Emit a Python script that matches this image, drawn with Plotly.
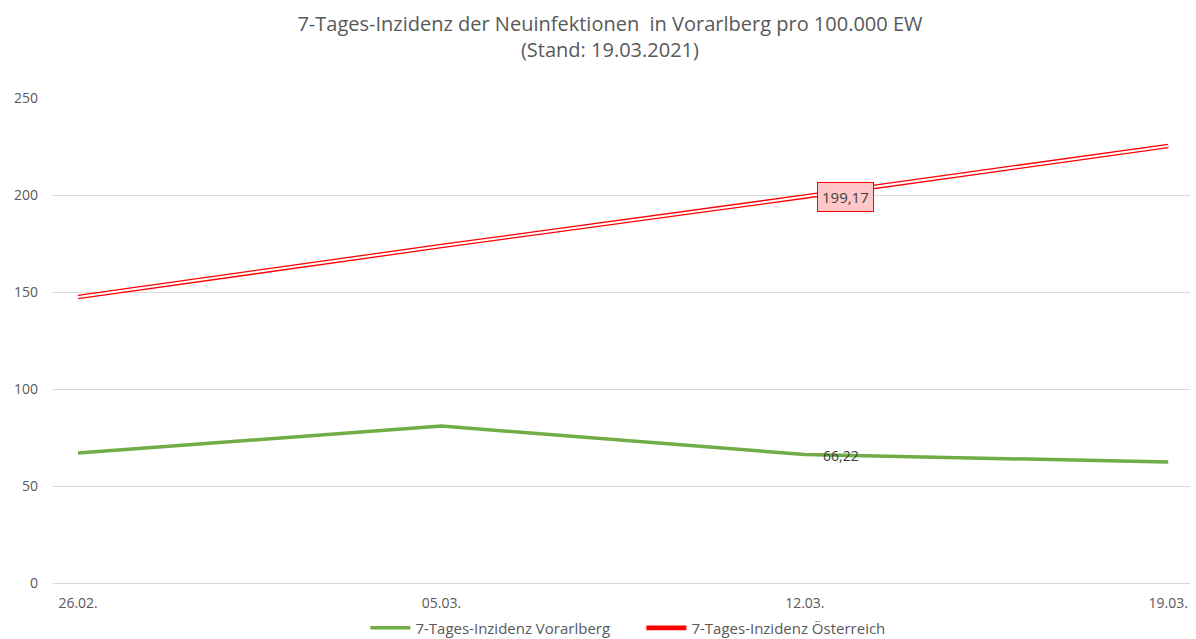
import plotly.graph_objects as go

# Data
dates = ["26.02.", "05.03.", "12.03.", "19.03."]
vorarlberg = [67.0, 80.9, 66.22, 62.4]
oesterreich = [147.4, 173.7, 199.17, 225.3]

labelled_idx = 2  # point that carries a data label

GREEN = "#70AD47"
RED = "#FF0000"
GRAY = "#595959"
GRID = "#D9D9D9"
FONT = "Open Sans"


def de_num(v):
    return f"{v:.2f}".replace(".", ",")


fig = go.Figure()

fig.add_trace(go.Scatter(
    x=dates, y=vorarlberg, mode="lines",
    name="7-Tages-Inzidenz Vorarlberg",
    line=dict(color=GREEN, width=3.5),
))

# Austria: double line drawn as a red line with a white core
fig.add_trace(go.Scatter(
    x=dates, y=oesterreich, mode="lines",
    name="7-Tages-Inzidenz Österreich",
    line=dict(color=RED, width=4.6),
))
fig.add_trace(go.Scatter(
    x=dates, y=oesterreich, mode="lines",
    showlegend=False, hoverinfo="skip",
    line=dict(color="white", width=2.0),
))

# data labels
fig.add_annotation(
    x=dates[labelled_idx], y=vorarlberg[labelled_idx],
    text=de_num(vorarlberg[labelled_idx]),
    showarrow=False, xanchor="left", xshift=16, yshift=-1,
    font=dict(family=FONT, size=14, color="#404040"),
)
fig.add_annotation(
    x=dates[labelled_idx], y=oesterreich[labelled_idx],
    text=de_num(oesterreich[labelled_idx]),
    showarrow=False, xanchor="left", xshift=12, yshift=0,
    font=dict(family=FONT, size=15, color="#404040"),
    bgcolor="#FFC7C7", bordercolor=RED, borderwidth=1, borderpad=4,
)

fig.update_layout(
    width=1196, height=639,
    paper_bgcolor="white", plot_bgcolor="white",
    margin=dict(l=53, r=6, t=98, b=56, autoexpand=False),
    font=dict(family=FONT, size=14, color=GRAY),
    title=dict(
        text="7-Tages-Inzidenz der Neuinfektionen  in Vorarlberg pro 100.000 EW<br>(Stand: 19.03.2021)",
        x=0.51, xanchor="center", yref="container", y=1 - 31 / 639, yanchor="middle",
        font=dict(family=FONT, size=20, color=GRAY),
    ),
    xaxis=dict(
        type="category", range=[-0.069, 3.06],
        showgrid=False, showline=False, zeroline=False,
        ticks="", ticklabelstandoff=10,
        tickfont=dict(size=14, color=GRAY),
    ),
    yaxis=dict(
        range=[0, 250], dtick=50,
        showgrid=True, gridcolor=GRID, gridwidth=1,
        zeroline=True, zerolinecolor=GRID, zerolinewidth=1,
        showline=False, ticks="", ticklabelstandoff=14,
        tickfont=dict(size=14, color=GRAY),
    ),
    legend=dict(
        orientation="h", x=0.5175, xanchor="center", y=-0.093, yanchor="middle",
        font=dict(size=15, color=GRAY),
        itemwidth=40, tracegroupgap=0, entrywidth=221,
    ),
    showlegend=True,
)

# drop the default page margin so the figure sits flush in the window
fig.write_html(
    "out.html",
    config=dict(displayModeBar=False),
    post_script="document.body.style.margin='0px';",
)
